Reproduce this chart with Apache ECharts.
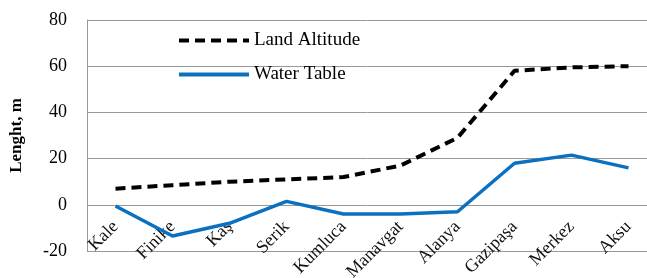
<!DOCTYPE html>
<html>
<head>
<meta charset="utf-8">
<script src="https://cdn.jsdelivr.net/npm/echarts@6/dist/echarts.min.js"></script>
<style>
  html, body { margin: 0; padding: 0; background: #fff; }
  #chart { width: 647px; height: 278px; }
</style>
</head>
<body>
<div id="chart"></div>
<script>
// 站点名称
var categories = ['Kale', 'Finike', 'Kaş', 'Serik', 'Kumluca', 'Manavgat', 'Alanya', 'Gazipaşa', 'Merkez', 'Aksu'];
var landAltitude = [7, 8.5, 10, 11, 12, 17, 29, 58, 59.5, 60];
var waterTable = [-0.5, -13.5, -8, 1.5, -4, -4, -3, 18, 21.5, 16];
var yTicks = [-20, 0, 20, 40, 60, 80];

var font = 'Liberation Serif, Times New Roman, serif';
var myChart = echarts.init(document.getElementById('chart'));
myChart.setOption({
  animation: false,
  grid: { left: 87, right: -10, top: 20, bottom: 27, outerBoundsMode: 'none', containLabel: false },
  legend: {
    orient: 'vertical',
    left: 172,
    top: 26,
    itemWidth: 70,
    itemHeight: 14,
    itemGap: 15,
    itemStyle: { opacity: 0 },
    textStyle: { fontFamily: font, fontSize: 19, color: '#000' },
    data: [
      { name: 'Land Altitude', lineStyle: { width: 4, type: [10, 6] } },
      { name: 'Water Table', lineStyle: { width: 4 } }
    ]
  },
  xAxis: {
    type: 'category',
    data: categories,
    offset: -46,
    z: 0,
    axisLine: { show: false, onZero: false },
    axisTick: { show: false },
    axisLabel: { rotate: 45, margin: 19, fontFamily: font, fontSize: 18, color: '#111' }
  },
  yAxis: {
    type: 'value',
    min: yTicks[0],
    max: yTicks[yTicks.length - 1],
    interval: 20,
    name: 'Lenght, m',
    nameLocation: 'middle',
    nameGap: 62,
    nameTextStyle: { fontFamily: font, fontSize: 17, fontWeight: 'bold', color: '#000' },
    axisLine: { show: true, lineStyle: { color: '#999' } },
    axisTick: { show: false },
    splitLine: { lineStyle: { color: '#999', width: 1 } },
    axisLabel: { fontFamily: font, fontSize: 18, color: '#000', margin: 20 }
  },
  series: [{
    name: 'Land Altitude',
    type: 'line',
    symbol: 'none',
    z: 5,
    data: landAltitude,
    itemStyle: { color: '#000' },
    lineStyle: { color: '#000', width: 4, type: [10, 6] }
  }, {
    name: 'Water Table',
    type: 'line',
    symbol: 'none',
    z: 5,
    data: waterTable,
    itemStyle: { color: '#0a70c0' },
    lineStyle: { color: '#0a70c0', width: 3.5 }
  }]
});
</script>
</body>
</html>
